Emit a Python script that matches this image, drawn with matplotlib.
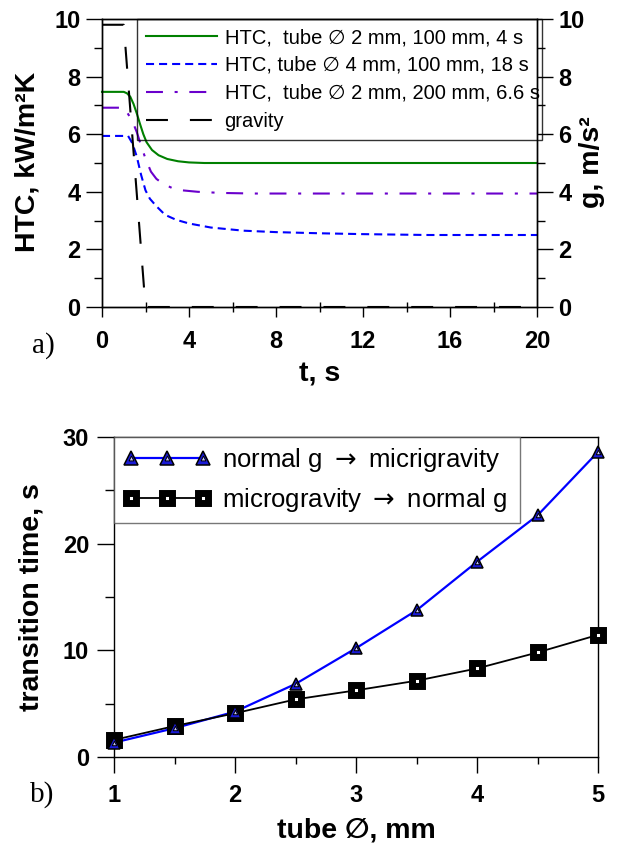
import matplotlib
matplotlib.use('Agg')
import matplotlib.pyplot as plt
from matplotlib.ticker import MultipleLocator
from matplotlib.lines import Line2D

SANS = ['Liberation Sans', 'DejaVu Sans']
SERIF = ['Liberation Serif', 'DejaVu Serif']
plt.rcParams['font.family'] = SANS
plt.rcParams['lines.scale_dashes'] = False

# ---------------- data: panel a ----------------
t_green = [0, 1.0, 1.15, 1.3, 1.45, 1.6, 1.75, 1.9, 2.05, 2.3, 2.6, 3.0, 3.5, 4.0, 4.7, 20]
htc_green = [7.47, 7.47, 7.42, 7.3, 7.05, 6.72, 6.35, 6.0, 5.72, 5.45, 5.27, 5.14, 5.06, 5.02, 5.0, 5.0]

t_blue = [0, 1.2, 1.4, 1.6, 1.8, 2.0, 2.2, 2.5, 2.9, 3.4, 4.0, 5.0, 6.5, 8, 10, 12, 15, 20]
htc_blue = [5.94, 5.94, 5.68, 5.22, 4.58, 4.05, 3.76, 3.5, 3.2, 3.03, 2.9, 2.76, 2.65, 2.6, 2.56, 2.53, 2.5, 2.5]

t_purple = [0, 1.0, 1.2, 1.4, 1.6, 1.8, 2.0, 2.25, 2.5, 2.8, 3.2, 3.7, 4.4, 5.5, 7, 20]
htc_purple = [6.92, 6.92, 6.7, 6.45, 6.07, 5.6, 5.15, 4.7, 4.45, 4.28, 4.14, 4.05, 4.0, 3.96, 3.94, 3.94]

t_grav = [0, 1.0, 2.0, 20]
g_grav = [9.8, 9.8, 0, 0]

labels_a = ['HTC,  tube \u2205 2 mm, 100 mm, 4 s',
            'HTC, tube \u2205 4 mm, 100 mm, 18 s',
            'HTC,  tube \u2205 2 mm, 200 mm, 6.6 s',
            'gravity']

# ---------------- data: panel b ----------------
diam = [1, 1.5, 2, 2.5, 3, 3.5, 4, 4.5, 5]
t_ng_mg = [1.35, 2.7, 4.25, 6.85, 10.2, 13.75, 18.3, 22.65, 28.6]
t_mg_ng = [1.6, 2.9, 4.1, 5.4, 6.25, 7.15, 8.3, 9.8, 11.45]
labels_b = ['normal g $\\rightarrow$ micrigravity', 'microgravity $\\rightarrow$ normal g']

W, H = 617, 849
fig = plt.figure(figsize=(W / 100, H / 100), dpi=100)

def fx(px):
    return px / W

def fy(py):
    return 1 - py / H

TICKFS = 17
LABFS = 20.5

# ---------------- panel a ----------------
ax = fig.add_axes([fx(102), fy(307), fx(537 - 102), (307 - 19) / H])
ax2 = ax.twinx()

l1, = ax.plot(t_green, htc_green, color='#008000', lw=1.5, clip_on=False)
l2, = ax.plot(t_blue, htc_blue, color='#0000ff', lw=1.5, ls=(0, (5.8, 3.6)), clip_on=False)
l3, = ax.plot(t_purple, htc_purple, color='#6a00cc', lw=1.5,
              ls=(0, (12.2, 8.4, 2.2, 8.4)), clip_on=False)
l4, = ax2.plot(t_grav, g_grav, color='black', lw=1.5, ls=(0, (15.8, 15.8)), clip_on=False)

ax.set_xlim(0, 20)
ax.set_ylim(0, 10)
ax2.set_ylim(0, 10)

ax.xaxis.set_major_locator(MultipleLocator(4))
ax.xaxis.set_minor_locator(MultipleLocator(2))
for a in (ax, ax2):
    a.yaxis.set_major_locator(MultipleLocator(2))
    a.yaxis.set_minor_locator(MultipleLocator(1))

ax.tick_params(axis='x', which='major', direction='out', length=7.2, width=1, pad=9,
               labelsize=TICKFS)
ax.tick_params(axis='x', which='minor', direction='inout', length=7, width=1)
ax.tick_params(axis='y', which='major', direction='out', length=11.5, width=1, pad=4,
               labelsize=TICKFS)
ax.tick_params(axis='y', which='minor', direction='out', length=5.8, width=1)
ax2.tick_params(axis='y', which='major', direction='out', length=11.5, width=1, pad=4,
                labelsize=TICKFS)
ax2.tick_params(axis='y', which='minor', direction='out', length=5.8, width=1)
for lab in ax.get_xticklabels() + ax.get_yticklabels() + ax2.get_yticklabels():
    lab.set_fontweight('bold')
for a in (ax, ax2):
    for s in a.spines.values():
        s.set_linewidth(1)

leg = ax2.legend([l1, l2, l3, l4], labels_a, loc='upper left',
                 bbox_to_anchor=(fx(137), fy(140), fx(542 - 137), (140 - 19) / H),
                 bbox_transform=fig.transFigure, mode='expand', borderaxespad=0,
                 fontsize=14.5, handlelength=3.5, handletextpad=0.4, borderpad=0.45,
                 labelspacing=0.44, fancybox=False, frameon=True)
leg.get_frame().set_edgecolor('black')
leg.get_frame().set_linewidth(1)
leg.get_frame().set_facecolor('none')

fig.text(fx(28), fy(162), 'HTC, kW/m\u00b2K', rotation=90, ha='center', va='center',
         fontsize=LABFS, fontweight='bold')
fig.text(fx(592), fy(162), 'g, m/s\u00b2', rotation=90, ha='center', va='center',
         fontsize=LABFS, fontweight='bold')
fig.text(fx(320), fy(374), 't, s', ha='center', va='center', fontsize=LABFS, fontweight='bold')
fig.text(fx(43), fy(346), 'a)', ha='center', va='center', fontsize=21, family=SERIF)

# ---------------- panel b ----------------
bx = fig.add_axes([fx(114), fy(757), fx(598 - 114), (757 - 437) / H])
bx.plot(diam, t_ng_mg, color='#0000ff', lw=1.6, zorder=2, clip_on=False)
bx.plot(diam, t_mg_ng, color='black', lw=1.3, marker='s', ms=7.6, mfc='white', mec='black',
        mew=5.0, zorder=3, clip_on=False)
bx.plot(diam, t_ng_mg, ls='none', marker='^', ms=8.5, mfc='#1a1ad6', mec='black', mew=1.1,
        zorder=4, clip_on=False)
bx.plot(diam, t_ng_mg, ls='none', marker='^', ms=3.2, mfc='#c8c8ff', mec='black', mew=0.7,
        zorder=5, clip_on=False)

bx.set_xlim(1, 5)
bx.set_ylim(0, 30)
bx.xaxis.set_major_locator(MultipleLocator(1))
bx.xaxis.set_minor_locator(MultipleLocator(0.5))
bx.yaxis.set_major_locator(MultipleLocator(10))
bx.yaxis.set_minor_locator(MultipleLocator(5))
bx.tick_params(axis='x', which='major', direction='out', length=11.5, width=1, pad=8,
               labelsize=TICKFS)
bx.tick_params(axis='x', which='minor', direction='out', length=5, width=1)
bx.tick_params(axis='y', which='major', direction='out', length=12, width=1, pad=6,
               labelsize=TICKFS)
bx.tick_params(axis='y', which='minor', direction='out', length=6.5, width=1)
for lab in bx.get_xticklabels() + bx.get_yticklabels():
    lab.set_fontweight('bold')
for s in bx.spines.values():
    s.set_linewidth(1)

h1 = Line2D([], [], color='#0000ff', lw=1.6, marker='^', ms=9.4, mfc='#1a1ad6', mec='black',
            mew=1.1)
h1i = Line2D([], [], ls='none', marker='^', ms=3.5, mfc='#c8c8ff', mec='black', mew=0.7)
h2 = Line2D([], [], color='black', lw=1.3, marker='s', ms=7.6, mfc='white', mec='black', mew=5.0)
legb = bx.legend([(h1, h1i), h2], labels_b, loc='upper left', numpoints=3,
                 bbox_to_anchor=(fx(114), fy(523), fx(520 - 114), (523 - 437) / H),
                 bbox_transform=fig.transFigure, mode='expand', borderaxespad=0,
                 fontsize=18.5, handlelength=3.4, handletextpad=0.45, borderpad=0.36,
                 labelspacing=0.45, fancybox=False, frameon=True)
legb.get_frame().set_edgecolor('#555555')
legb.get_frame().set_linewidth(1)

fig.text(fx(32), fy(597), 'transition time, s', rotation=90, ha='center', va='center',
         fontsize=LABFS, fontweight='bold')
fig.text(fx(356), fy(831), 'tube \u2205, mm', ha='center', va='center', fontsize=LABFS,
         fontweight='bold')
fig.text(fx(42), fy(795), 'b)', ha='center', va='center', fontsize=21, family=SERIF)

fig.savefig('out.png', dpi=100)
